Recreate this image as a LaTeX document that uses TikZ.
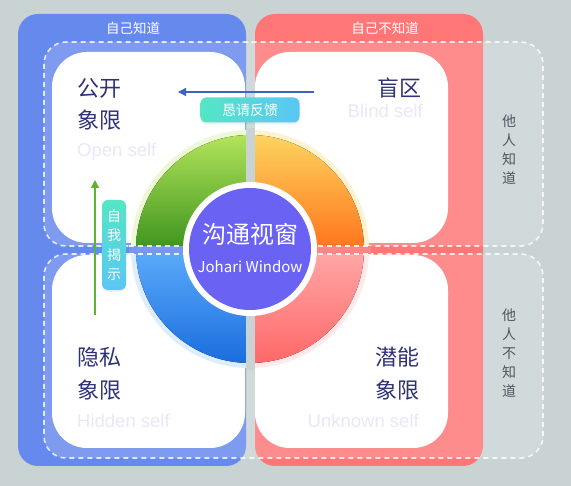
\documentclass[tikz,border=0pt]{standalone}
\usepackage{fontspec}
\newfontfamily\cjk{Noto Sans CJK SC}
\newfontfamily\lat{Liberation Sans}
\usetikzlibrary{arrows.meta,shadows}
\definecolor{bg}{HTML}{C9D3D3}
\definecolor{bluep}{HTML}{6689EE}
\definecolor{redp}{HTML}{FF7676}
\definecolor{navy}{HTML}{2F3275}
\definecolor{lav}{HTML}{E8E8F8}
\definecolor{side}{HTML}{50555F}
\definecolor{purp}{HTML}{6A62F3}
\definecolor{arrb}{HTML}{3D63C5}
\definecolor{arrg}{HTML}{5CB532}
\definecolor{tealA}{HTML}{55E6C4}
\definecolor{tealB}{HTML}{5AC6F5}
\definecolor{gA}{HTML}{B2E45A}
\definecolor{gB}{HTML}{3E941E}
\definecolor{oA}{HTML}{FDD45E}
\definecolor{oB}{HTML}{FF741C}
\definecolor{bA}{HTML}{5CACFA}
\definecolor{bB}{HTML}{1A6DDE}
\definecolor{rA}{HTML}{FFA8A8}
\definecolor{rB}{HTML}{FF6868}
\newcommand\annsec[5]{%
  \fill[#5] ([shift={(#1:#3)}]c) arc[start angle=#1,end angle=#2,radius=#3]
     -- ([shift={(#2:#4)}]c) arc[start angle=#2,end angle=#1,radius=#4] -- cycle;}
\begin{document}
\begin{tikzpicture}[x=1pt,y=1pt,
  panel/.style={rounded corners=20pt},
  dbox/.style={rounded corners=22pt, fill=white, fill opacity=0.16, draw=white, draw opacity=0.8,
     line width=1.6pt, dash pattern=on 5pt off 4pt},
  card/.style={fill=white, rounded corners=35pt},
  big/.style={inner sep=0pt, text=navy, font=\cjk\fontsize{22}{22}\selectfont},
  eng/.style={inner sep=0pt, text=lav, font=\lat\fontsize{18.5}{18.5}\selectfont},
  toplab/.style={inner sep=0pt, text=white, font=\cjk\fontsize{13.5}{13.5}\selectfont},
  sidelab/.style={inner sep=0pt, text=side, align=center, font=\cjk\fontsize{14}{19}\selectfont},
  tag/.style={text=white, rounded corners=6pt, inner sep=0pt, font=\cjk\fontsize{14}{19.5}\selectfont,
     drop shadow={opacity=0.12, shadow xshift=0pt, shadow yshift=-2pt}},
  dline/.style={white, opacity=0.85, line width=1.6pt, dash pattern=on 5pt off 4pt}]
\useasboundingbox (0,0) rectangle (571,-486);
\fill[bg] (0,0) rectangle (571,-486);
% panels
\fill[bluep, panel] (18,-14) rectangle (246,-466);
\fill[redp, panel] (255,-14) rectangle (483,-466);
\node[toplab] (tl1) at (133,-28) {自己知道};
\node[toplab] (tl2) at (385,-28) {自己不知道};
% dashed zones
\path[dbox] (44,-42) rectangle (543,-246);
\path[dbox] (44,-254) rectangle (543,-458);
% cards
\fill[card] (52,-52) rectangle (245,-243);
\fill[card] (255,-52) rectangle (448,-243);
\fill[card] (52,-255) rectangle (245,-448);
\fill[card] (255,-255) rectangle (448,-448);
% ring
\coordinate (c) at (250,-249);
\annsec{90}{180}{119}{113}{gA!25!white}
\annsec{0}{90}{119}{113}{oA!30!white}
\annsec{180}{270}{119}{113}{bA!22!white}
\annsec{270}{360}{119}{113}{rA!25!white}
\annsec{90}{180}{114}{66}{top color=gA, bottom color=gB}
\annsec{0}{90}{114}{66}{top color=oA, bottom color=oB}
\annsec{180}{270}{114}{66}{top color=bA, bottom color=bB}
\annsec{270}{360}{114}{66}{top color=rA, bottom color=rB}
% band and strip across the ring
\fill[bluep!88!white] (129,-246) rectangle (246,-254);
\fill[redp!90!white] (255,-246) rectangle (371,-254);
\fill[bg] (246,-128) rectangle (255,-370);
\draw[dline] (129,-246) -- (246,-246);
\draw[dline] (129,-254) -- (246,-254);
\draw[dline] (255,-246) -- (371,-246);
\draw[dline] (255,-254) -- (371,-254);
% center
\fill[white] (c) circle[radius=67];
\fill[purp] (c) circle[radius=61];
\node[inner sep=0pt, text=white, font=\cjk\fontsize{24}{24}\selectfont] (t1) at (250,-234) {沟通视窗};
\node[inner sep=0pt, text=white, font=\cjk\fontsize{15}{15}\selectfont] (t2) at (250,-267) {Johari Window};
% quadrant texts
\node[big, anchor=west] (q1a) at (77,-88) {公开};
\node[big, anchor=west] (q1b) at (77,-120) {象限};
\node[eng, anchor=west] (q1c) at (77,-152) {Open self};
\node[big, anchor=east] (q2a) at (422,-88) {盲区};
\node[eng, anchor=east] (q2c) at (423,-111) {Blind self};
\node[big, anchor=west] (q3a) at (77,-357) {隐私};
\node[big, anchor=west] (q3b) at (77,-390) {象限};
\node[eng, anchor=west] (q3c) at (77,-421) {Hidden self};
\node[big, anchor=east] (q4a) at (420,-357) {潜能};
\node[big, anchor=east] (q4b) at (420,-390) {象限};
\node[eng, anchor=east] (q4c) at (419,-421) {Unknown self};
% side labels
\node[sidelab] (s1) at (509,-150) {他\\人\\知\\道};
\node[sidelab] (s2) at (509,-353) {他\\人\\不\\知\\道};
% feedback arrow
\coordinate (fbS) at (314,-92);
\coordinate (fbE) at (178,-92);
\draw[arrb, line width=1.2pt, -{Triangle[length=8pt,width=8pt]}] (fbS) -- (fbE);
\node[tag, minimum width=99pt, minimum height=25pt, left color=tealA, right color=tealB] (fb) at (250,-110) {恳请反馈};
% disclosure arrow
\coordinate (dsS) at (95,-315);
\coordinate (dsE) at (95,-180);
\draw[arrg, line width=1.2pt, -{Triangle[length=8pt,width=8pt]}] (dsS) -- (dsE);
\node[tag, align=center, minimum width=24pt, minimum height=90pt, top color=tealA, bottom color=tealB] (ds) at (114,-245) {自\\我\\揭\\示};
\end{tikzpicture}
\end{document}
